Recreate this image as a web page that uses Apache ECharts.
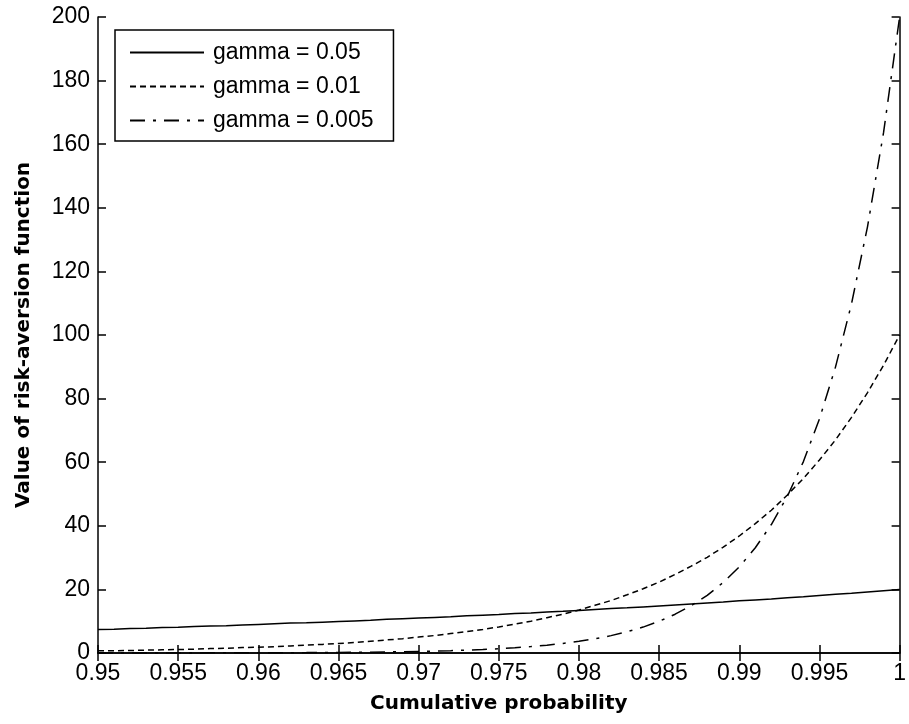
<!DOCTYPE html>
<html>
<head>
<meta charset="utf-8">
<script src="https://cdn.jsdelivr.net/npm/echarts@6/dist/echarts.min.js"></script>
<style>
  html, body { margin: 0; padding: 0; background: #fff; }
  #chart { width: 909px; height: 724px; }
</style>
</head>
<body>
<div id="chart"></div>
<script>
// Cumulative probability grid (0.95 .. 1, step 0.001)
const probability = [
  0.950, 0.951, 0.952, 0.953, 0.954, 0.955, 0.956, 0.957, 0.958, 0.959,
  0.960, 0.961, 0.962, 0.963, 0.964, 0.965, 0.966, 0.967, 0.968, 0.969,
  0.970, 0.971, 0.972, 0.973, 0.974, 0.975, 0.976, 0.977, 0.978, 0.979,
  0.980, 0.981, 0.982, 0.983, 0.984, 0.985, 0.986, 0.987, 0.988, 0.989,
  0.990, 0.991, 0.992, 0.993, 0.994, 0.995, 0.996, 0.997, 0.998, 0.999,
  1.000
];

// Risk-aversion function values, one array per gamma
const gamma005 = [
  7.4, 7.5, 7.7, 7.8, 8.0, 8.1, 8.3, 8.5, 8.6, 8.8,
  9.0, 9.2, 9.4, 9.5, 9.7, 9.9, 10.1, 10.3, 10.6, 10.8,
  11.0, 11.2, 11.4, 11.7, 11.9, 12.1, 12.4, 12.6, 12.9, 13.1,
  13.4, 13.7, 14.0, 14.2, 14.5, 14.8, 15.1, 15.4, 15.7, 16.0,
  16.4, 16.7, 17.0, 17.4, 17.7, 18.1, 18.5, 18.8, 19.2, 19.6,
  20.0
];
const gamma001 = [
  0.7, 0.7, 0.8, 0.9, 1.0, 1.1, 1.2, 1.4, 1.5, 1.7,
  1.8, 2.0, 2.2, 2.5, 2.7, 3.0, 3.3, 3.7, 4.1, 4.5,
  5.0, 5.5, 6.1, 6.7, 7.4, 8.2, 9.1, 10.0, 11.1, 12.2,
  13.5, 15.0, 16.5, 18.3, 20.2, 22.3, 24.7, 27.3, 30.1, 33.3,
  36.8, 40.7, 44.9, 49.7, 54.9, 60.7, 67.0, 74.1, 81.9, 90.5,
  100.0
];
const gamma0005 = [
  0.01, 0.01, 0.02, 0.02, 0.02, 0.02, 0.03, 0.04, 0.04, 0.05,
  0.07, 0.08, 0.10, 0.12, 0.15, 0.18, 0.22, 0.27, 0.33, 0.41,
  0.50, 0.61, 0.74, 0.90, 1.10, 1.35, 1.65, 2.01, 2.46, 3.00,
  3.66, 4.47, 5.46, 6.67, 8.15, 9.96, 12.2, 14.9, 18.1, 22.2,
  27.1, 33.1, 40.4, 49.3, 60.2, 73.6, 89.9, 109.8, 134.1, 163.7,
  200.0
];

const seriesNames = ['gamma = 0.05', 'gamma = 0.01', 'gamma = 0.005'];
const xTicks = { min: 0.95, max: 1, interval: 0.005 };
const yTicks = { min: 0, max: 200, interval: 20 };

const pair = (ys) => probability.map((p, i) => [p, ys[i]]);

const tickFont = { fontFamily: 'Liberation Sans, Arial, sans-serif', fontSize: 23, color: '#000' };
const frameLine = { show: true, lineStyle: { color: '#000', width: 1.5 } };
const innerTick = { show: true, inside: true, length: 8, lineStyle: { color: '#000', width: 1.5 } };
const titleFont = { fontFamily: 'DejaVu Sans, sans-serif', fontWeight: 'bold', fontSize: 20, color: '#000' };

const chart = echarts.init(document.getElementById('chart'), null, { renderer: 'canvas' });

chart.setOption({
  backgroundColor: '#fff',
  animation: false,
  grid: { left: 98, right: 3, top: 17, bottom: 71, containLabel: false },
  legend: {
    left: 115, top: 30,
    orient: 'vertical',
    backgroundColor: '#fff',
    borderColor: '#000', borderWidth: 1.5, borderRadius: 0,
    padding: [11, 20, 9, 14],
    itemWidth: 74, itemHeight: 14, itemGap: 11,
    itemStyle: { opacity: 0 },
    textStyle: { fontFamily: 'Liberation Sans, Arial, sans-serif', fontSize: 23, color: '#000', padding: [0, 0, 0, 4] },
    data: seriesNames
  },
  xAxis: [
    {
      type: 'value', min: xTicks.min, max: xTicks.max, interval: xTicks.interval,
      position: 'bottom',
      name: 'Cumulative probability', nameLocation: 'middle', nameGap: 41,
      nameTextStyle: titleFont,
      axisLine: frameLine, axisTick: innerTick,
      axisLabel: Object.assign({ margin: 9, formatter: v => String(Number(v.toFixed(3))) }, tickFont),
      splitLine: { show: false }
    },
    {
      type: 'value', min: xTicks.min, max: xTicks.max, interval: xTicks.interval,
      position: 'top',
      axisLine: frameLine, axisTick: innerTick,
      axisLabel: { show: false }, splitLine: { show: false }
    }
  ],
  yAxis: [
    {
      type: 'value', min: yTicks.min, max: yTicks.max, interval: yTicks.interval,
      position: 'left',
      name: 'Value of risk-aversion function', nameLocation: 'middle', nameGap: 64,
      nameTextStyle: titleFont,
      axisLine: frameLine, axisTick: innerTick,
      axisLabel: Object.assign({ margin: 8 }, tickFont),
      splitLine: { show: false }
    },
    {
      type: 'value', min: yTicks.min, max: yTicks.max, interval: yTicks.interval,
      position: 'right',
      axisLine: frameLine, axisTick: innerTick,
      axisLabel: { show: false }, splitLine: { show: false }
    }
  ],
  series: [
    {
      name: seriesNames[0], type: 'line', data: pair(gamma005),
      showSymbol: false, symbol: 'none',
      color: '#000',
      lineStyle: { color: '#000', width: 1.5, type: 'solid' }
    },
    {
      name: seriesNames[1], type: 'line', data: pair(gamma001),
      showSymbol: false, symbol: 'none',
      color: '#000',
      lineStyle: { color: '#000', width: 1.5, type: [6, 4] }
    },
    {
      name: seriesNames[2], type: 'line', data: pair(gamma0005),
      showSymbol: false, symbol: 'none',
      color: '#000',
      lineStyle: { color: '#000', width: 1.5, type: [15, 8, 3, 8] }
    }
  ]
});
</script>
</body>
</html>
